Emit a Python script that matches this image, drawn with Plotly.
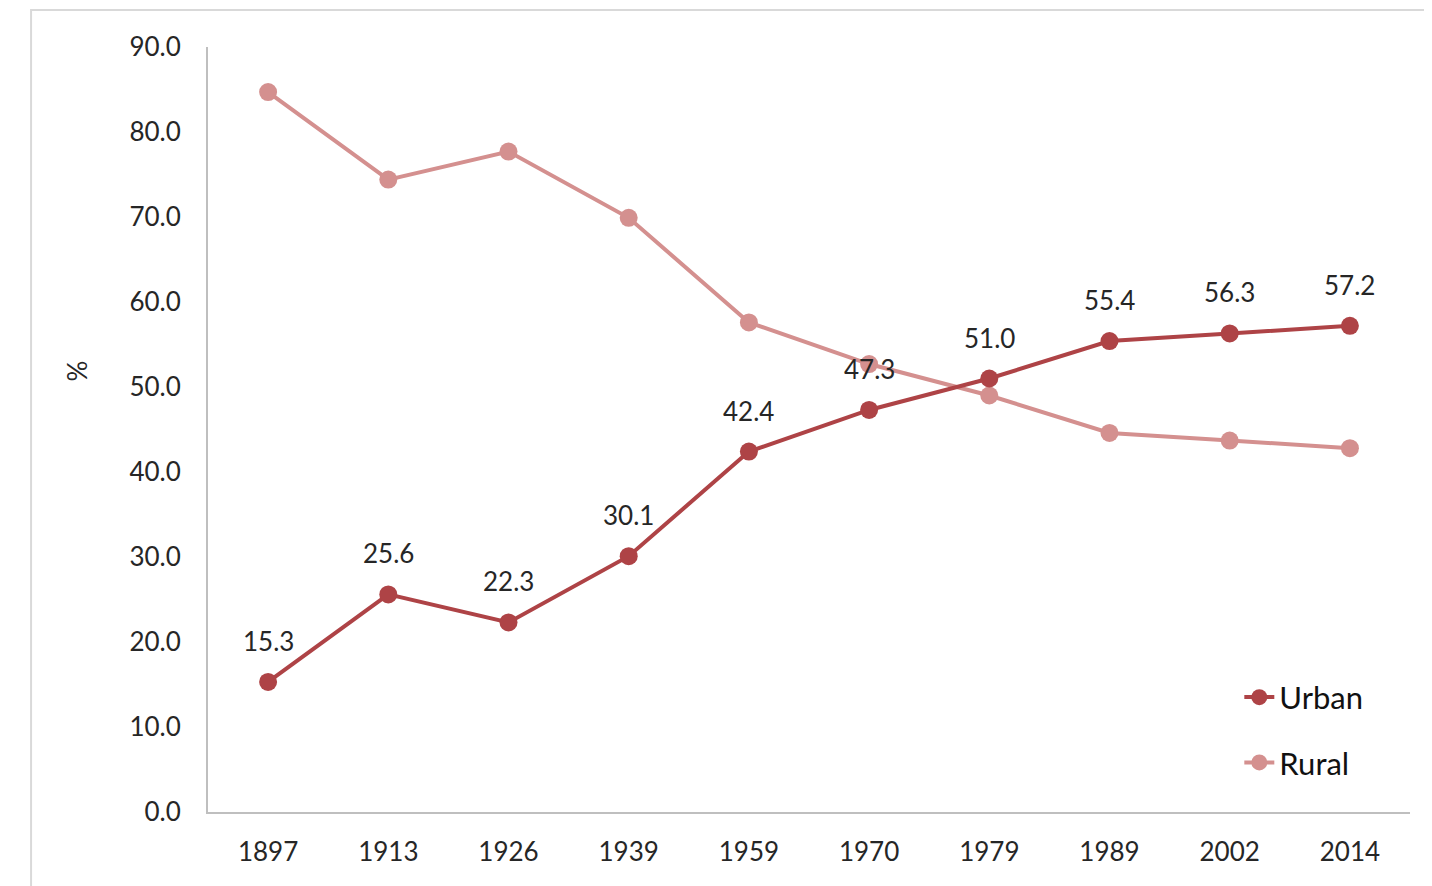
import plotly.graph_objects as go

years = ["1897", "1913", "1926", "1939", "1959", "1970", "1979", "1989", "2002", "2014"]
urban = [15.3, 25.6, 22.3, 30.1, 42.4, 47.3, 51.0, 55.4, 56.3, 57.2]
rural = [84.7, 74.4, 77.7, 69.9, 57.6, 52.7, 49.0, 44.6, 43.7, 42.8]
y_ticks = [0, 10, 20, 30, 40, 50, 60, 70, 80, 90]

URBAN_C = "#AE4346"
RURAL_C = "#D4908F"
FONT = "Lato"
TXT = "#262626"

fig = go.Figure()
fig.add_trace(go.Scatter(
    x=years, y=rural, name="Rural", mode="lines+markers",
    line=dict(color=RURAL_C, width=4),
    marker=dict(color=RURAL_C, size=18),
    legendrank=2, legendgroup="r",
))
fig.add_trace(go.Scatter(
    x=years, y=urban, name="Urban", mode="lines+markers",
    line=dict(color=URBAN_C, width=4),
    marker=dict(color=URBAN_C, size=18),
    legendrank=1, legendgroup="u",
))

# data labels for Urban, placed on the category axis by index
annotations = [dict(x=i, y=v, xref="x", yref="y", text=f"{v:.1f}", showarrow=False,
                    yshift=41, font=dict(family=FONT, size=26, color=TXT))
               for i, v in enumerate(urban)]
annotations.append(dict(text="%", xref="paper", yref="paper", x=-0.124, y=0.577,
                        showarrow=False, textangle=-90,
                        font=dict(family=FONT, size=26, color=TXT)))

fig.update_layout(
    width=1432, height=886,
    margin=dict(l=200, r=30, t=39, b=82),
    paper_bgcolor="white", plot_bgcolor="white",
    font=dict(family=FONT, size=26, color=TXT),
    showlegend=True,
    legend=dict(x=0.858, y=0.185, xanchor="left", yanchor="top",
                font=dict(family=FONT, size=31, color="#111111"),
                bgcolor="rgba(0,0,0,0)", traceorder="grouped", tracegroupgap=22),
    xaxis=dict(type="category", range=[-0.5, 9.5], showline=True, linecolor="#BFBFBF",
               linewidth=2, showgrid=False, ticks="", zeroline=False,
               ticklabelstandoff=16,
               tickfont=dict(family=FONT, size=26, color=TXT)),
    yaxis=dict(range=[0, 90], tickvals=y_ticks, ticktext=[f"{v:.1f}" for v in y_ticks],
               showline=True, linecolor="#BFBFBF", linewidth=2, showgrid=False,
               ticks="", zeroline=False, ticklabelstandoff=20,
               tickfont=dict(family=FONT, size=26, color=TXT)),
    shapes=[dict(type="rect", xref="paper", yref="paper",
                 x0=-0.1472, x1=1.1, y0=-0.2, y1=1.0484,
                 line=dict(color="#D9D9D9", width=2), layer="below")],
    annotations=annotations,
)

fig.write_html("out.html")
